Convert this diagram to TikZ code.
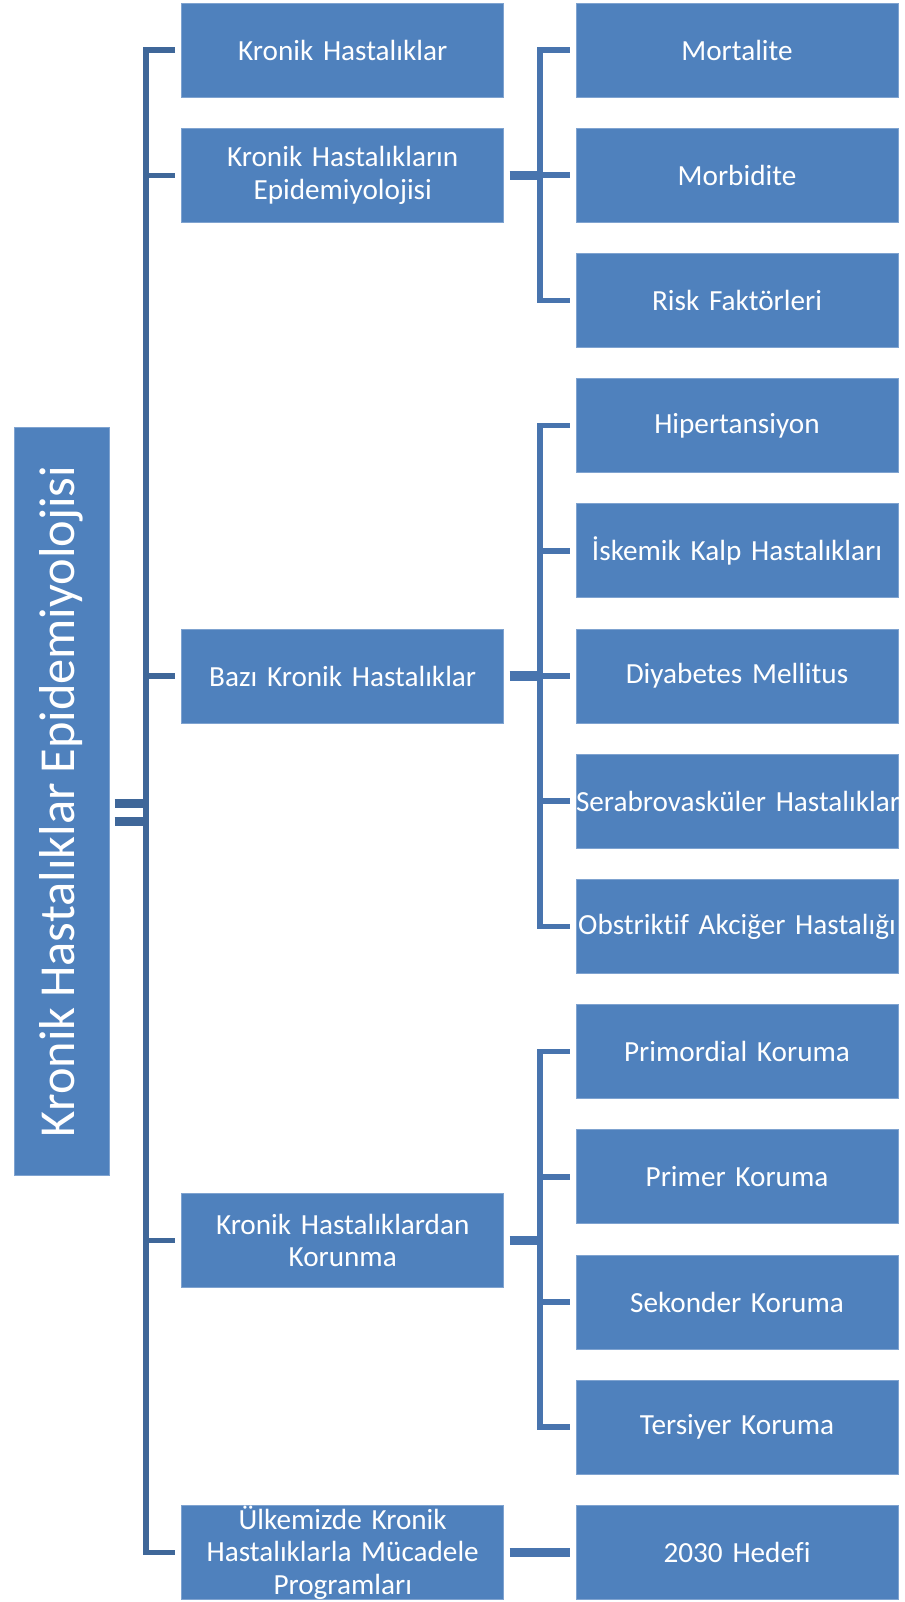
\documentclass[tikz,border=0pt]{standalone}
\usepackage{fontspec}
\setmainfont{Carlito}[RawFeature={-liga}, WordSpace=0.85]
\definecolor{boxblue}{HTML}{4F81BD}
\definecolor{boxedge}{HTML}{7FA3D0}
\definecolor{darkline}{HTML}{3F6799}
\definecolor{midline}{HTML}{4874AE}
\tikzstyle{topic}=[rectangle, fill=boxblue, draw=boxedge, line width=0.4pt, text=white,
    inner sep=0pt, minimum width=161pt, minimum height=47pt, text width=161pt,
    align=center, font=\fontsize{14.6}{16.3}\selectfont]
\tikzstyle{rootbox}=[rectangle, fill=boxblue, draw=boxedge, line width=0.4pt, text=white,
    inner sep=0pt, minimum width=47.35pt, minimum height=374.3pt,
    font=\fontsize{25.2}{30}\selectfont]
\newcommand{\topic}{\node[topic]}

\begin{document}
\begin{tikzpicture}[x=0.5pt, y=-0.5pt
    ,lline/.style={draw=darkline, line width=2.6pt}
    ,rline/.style={draw=midline, line width=2.8pt}
    ,stub/.style={draw=midline, line width=4.6pt, shorten <=2.8pt}
    ,bar/.style={draw=darkline, line width=4.5pt, shorten <=2.6pt}
]
\useasboundingbox (0,0) rectangle (905,1602);
% root
\node[rootbox] (root) at (61.7,801.3) {\rotatebox{90}{Kronik Hastalıklar Epidemiyolojisi}};
% first level
\topic (kh)  at (342.7,50)     {Kronik Hastalıklar};
\topic (khe) at (342.7,175.2)  {Kronik Hastalıkların\\Epidemiyolojisi};
\topic (bkh) at (342.7,676)    {Bazı Kronik Hastalıklar};
\topic (khk) at (342.7,1240.5) {Kronik Hastalıklardan\\Korunma};
\topic (ukm) at (342.7,1552.4) {Ülkemizde Kronik\\Hastalıklarla Mücadele\\Programları};
% second level
\topic (mor) at (737,50)     {Mortalite};
\topic (mrb) at (737,175.2)  {Morbidite};
\topic (rsk) at (737,300.4)  {Risk Faktörleri};
\topic (hip) at (737,425.6)  {Hipertansiyon};
\topic (isk) at (737,550.8)  {İskemik Kalp Hastalıkları};
\topic (dia) at (737,676)    {Diyabetes Mellitus};
\topic (ser) at (737,801.2)  {\mbox{Serabrovasküler Hastalıklar}};
\topic (obs) at (737,926.4)  {\mbox{Obstriktif Akciğer Hastalığı}};
\topic (prd) at (737,1051.6) {Primordial Koruma};
\topic (prm) at (737,1176.8) {Primer Koruma};
\topic (sek) at (737,1302)   {Sekonder Koruma};
\topic (ter) at (737,1427.2) {Tersiyer Koruma};
\topic (hdf) at (737,1552.4) {2030 Hedefi};

\coordinate (lbus) at (146,801.3);
\coordinate (ebus) at (540,175.2);
\coordinate (bbus) at (540,676);
\coordinate (pbus) at (540,1240.5);

% root to first level
\draw[bar] ([yshift=-1.2pt]root.east) -- ([yshift=-1.2pt]root.east -| lbus);
\draw[bar] ([yshift=-10.1pt]root.east) -- ([yshift=-10.1pt]root.east -| lbus);
\draw[lline] ([xshift=-3.1pt]kh.west) -| (lbus) |- ([xshift=-3.1pt]ukm.west);
\draw[lline] (lbus |- khe.west) -- ([xshift=-3.1pt]khe.west);
\draw[lline] (lbus |- bkh.west) -- ([xshift=-3.1pt]bkh.west);
\draw[lline] (lbus |- khk.west) -- ([xshift=-3.1pt]khk.west);

% epidemiyoloji
\draw[stub] (khe.east) -- (ebus);
\draw[rline] ([xshift=-3pt]mor.west) -| (ebus) |- ([xshift=-3pt]rsk.west);
\draw[rline] (ebus) -- ([xshift=-3pt]mrb.west);

% bazi kronik hastaliklar
\draw[stub] (bkh.east) -- (bbus);
\draw[rline] ([xshift=-3pt]hip.west) -| (bbus) |- ([xshift=-3pt]obs.west);
\draw[rline] (bbus |- isk.west) -- ([xshift=-3pt]isk.west);
\draw[rline] (bbus |- dia.west) -- ([xshift=-3pt]dia.west);
\draw[rline] (bbus |- ser.west) -- ([xshift=-3pt]ser.west);

% korunma
\draw[stub] (khk.east) -- (pbus);
\draw[rline] ([xshift=-3pt]prd.west) -| (pbus) |- ([xshift=-3pt]ter.west);
\draw[rline] (pbus |- prm.west) -- ([xshift=-3pt]prm.west);
\draw[rline] (pbus |- sek.west) -- ([xshift=-3pt]sek.west);

% programlar
\draw[stub] (ukm.east) -- ([xshift=-3pt]hdf.west);
\end{tikzpicture}
\end{document}
